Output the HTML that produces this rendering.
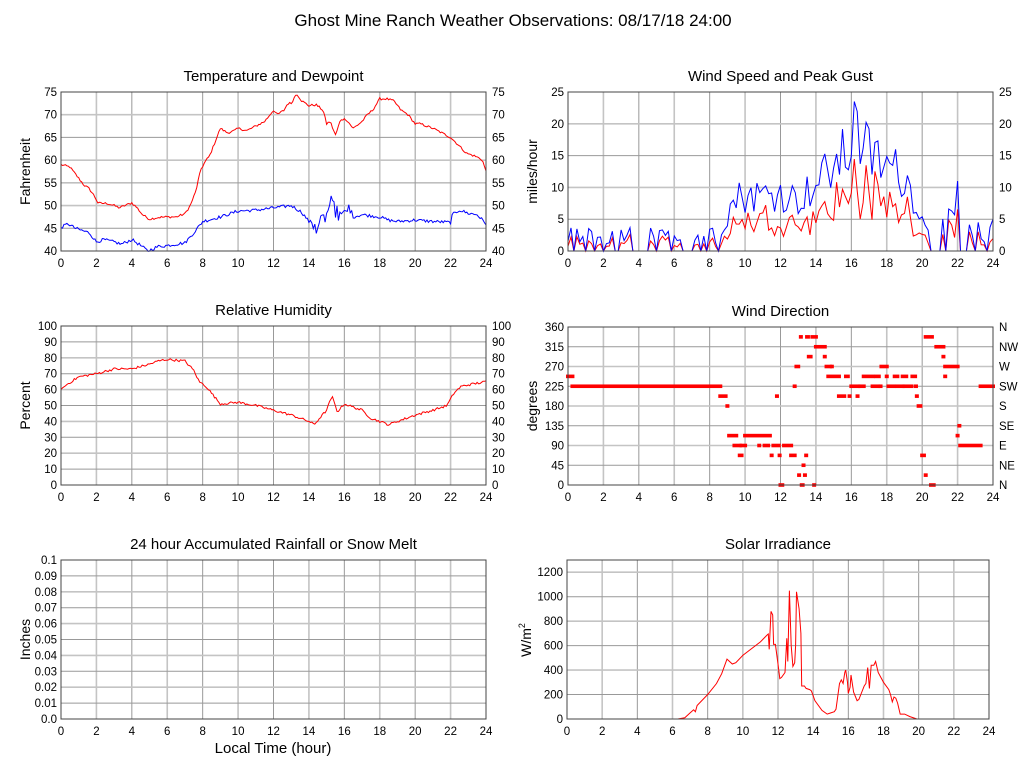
<!DOCTYPE html>
<html><head><meta charset="utf-8"><style>
body{margin:0;background:#fff}
svg{display:block;font-family:"Liberation Sans",sans-serif}
</style></head><body>
<svg id="s" width="1027" height="772" xmlns="http://www.w3.org/2000/svg"></svg>
<script>
const S=document.getElementById('s');let out='';
let seed=12345;function rnd(){seed=(seed*1103515245+12345)%2147483648;return seed/2147483648;}
function interp(k,t){for(let i=0;i<k.length-1;i++){if(t>=k[i][0]&&t<=k[i+1][0]){const a=k[i],b=k[i+1];return a[1]+(b[1]-a[1])*(t-a[0])/(b[0]-a[0]||1);}}return k[k.length-1][1];}
function txt(x,y,s,sz,anc,extra){out+=`<text x="${x}" y="${y}" font-size="${sz}" text-anchor="${anc||'middle'}" fill="#000" ${extra||''}>${s}</text>`;}
function plot(o){const {x,y,w,h,ymin,ymax,ticks,right,title,ylab}=o;
 const X=t=>x+t/24*w, Y=v=>y+h-(v-ymin)/(ymax-ymin)*h;
 for(let i=2;i<24;i+=2){const lx=X(i);out+=`<line x1="${lx}" y1="${y}" x2="${lx}" y2="${y+h}" stroke="${i%4==2?'#c4c4c4':'#999'}" stroke-width="${i%4==2?1.6:1}"/>`;}
 ticks.forEach((v,i)=>{const ly=Y(v);if(v>ymin&&v<ymax)out+=`<line x1="${x}" y1="${ly}" x2="${x+w}" y2="${ly}" stroke="${i%2?'#999':'#c4c4c4'}" stroke-width="${i%2?1:1.6}"/>`;
  txt(x-4,ly+4,o.fmt?o.fmt(v):v,11.5,'end');
  if(right)txt(x+w+6,ly+4,right[i],11.5,'start');});
 for(let i=0;i<=24;i+=2)txt(X(i),y+h+16,i,11.5);
 txt(x+w/2,y-11,title,15);
 if(ylab)out+=`<text transform="translate(${x-31},${y+h/2}) rotate(-90)" font-size="14" text-anchor="middle">${ylab}</text>`;
 o.X=X;o.Y=Y;return o;}
function border(o){out+=`<rect x="${o.x}" y="${o.y}" width="${o.w}" height="${o.h}" fill="none" stroke="#444" stroke-width="1"/>`;}
function line(o,pts,col){out+=`<polyline fill="none" stroke="${col}" stroke-width="1" points="${pts.map(p=>o.X(p[0]).toFixed(1)+','+o.Y(p[1]).toFixed(1)).join(' ')}"/>`;}
function series(k,noise,n){const p=[];for(let i=0;i<=n;i++){const t=i*24/n;p.push([t,interp(k,t)+(rnd()-0.5)*noise]);}return p;}
txt(513,26,'Ghost Mine Ranch Weather Observations: 08/17/18 24:00',17);
const r5=(a,b,s)=>{const r=[];for(let v=a;v<=b+1e-9;v+=s)r.push(+v.toFixed(2));return r;};
let tT=r5(40,75,5);
let P=plot({x:61,y:92,w:425,h:159,ymin:40,ymax:75,ticks:tT,right:tT,title:'Temperature and Dewpoint',ylab:'Fahrenheit'});
const tk=[[0,59],[0.5,58.5],[1,56],[1.3,54.5],[1.6,53.7],[1.9,52],[2.1,50.5],[2.6,50.5],[3,50],[3.3,49.5],[3.6,50],[4,50.6],[4.3,49.5],[4.6,48],[5,47],[5.5,47.4],[6,47.5],[6.5,47.5],[7,48.2],[7.3,50],[7.6,53],[7.9,58],[8.2,60],[8.4,61],[8.7,64],[9,67],[9.4,66],[9.8,66.5],[10,67],[10.5,66.5],[11,67.5],[11.5,68.5],[12,71],[12.2,70],[12.6,71],[12.8,72.5],[13,72.5],[13.3,74.7],[13.6,73],[14,72],[14.4,72.2],[14.8,71],[15,68],[15.2,68.5],[15.5,65.5],[15.8,69],[16.1,69],[16.5,67],[17,68.5],[17.3,70],[17.6,71],[18,73.5],[18.4,73.5],[18.8,73],[19.2,71],[19.6,70],[20,68],[20.3,68],[21,67],[21.5,66],[22,65],[22.4,63.5],[22.9,61.5],[23.3,61],[23.6,60.5],[23.8,60],[24,57.5]];
const dk=[[0,45.2],[0.4,46],[0.8,45],[1.2,44.5],[1.6,44],[2,42],[2.4,42.5],[3,42],[3.4,41.5],[4,42.5],[4.4,41.5],[4.9,40],[5.5,41],[6,41.2],[6.5,41.5],[7,41.8],[7.5,44],[8,46.5],[8.5,47],[9,47.5],[10,48.8],[11,49],[12,49.5],[13,50],[13.6,48.5],[14,46.5],[14.2,45],[14.6,46],[15,47.5],[15.2,50.8],[15.5,49],[15.9,47],[16.1,49.5],[16.5,47.5],[17,48],[18,47.5],[18.5,46.8],[19,46.5],[20,46.8],[21,46.5],[22,46.3],[22.1,48],[22.5,49],[23,48.3],[23.5,48],[24,46]];
line(P,series(tk,0.5,288),'#f00');
let dp=series(dk,0.7,288);dp.forEach(p=>{if(p[0]>14&&p[0]<16.5)p[1]+=(rnd()-0.5)*3;});
line(P,dp,'#00f');border(P);
let wt=r5(0,25,5);
P=plot({x:568,y:92,w:425,h:159,ymin:0,ymax:25,ticks:wt,right:wt,title:'Wind Speed and Peak Gust',ylab:'miles/hour'});
const gk=[[0,2.5],[8.5,2.5],[9,6],[9.5,9],[12,9.5],[13,8.5],[14,11],[15,14],[16,17],[16.3,19],[17,16],[18,14],[19,12.5],[19.5,9],[20,6],[21,4.5],[22,4.5],[23,3],[24,3.5]];
let G=[],W=[];
for(let i=0;i<=144;i++){const t=i/6;let g=interp(gk,t);let v;
 if(t<8.6||t>20){v=rnd()<0.4?0:g*(0.4+rnd()*1.1);}else v=g*(0.65+rnd()*0.6);
 if(Math.abs(t-16.17)<0.05)v=23.5;if(Math.abs(t-22)<0.05)v=11;
 G.push([t,Math.max(0,v)]);W.push([t,Math.max(0,v*(0.35+rnd()*0.4))]);}
line(P,W,'#f00');line(P,G,'#00f');border(P);
let rt=r5(0,100,10);
P=plot({x:61,y:326,w:425,h:159,ymin:0,ymax:100,ticks:rt,right:rt,title:'Relative Humidity',ylab:'Percent'});
const hk=[[0,60],[0.3,63],[1,68],[2,70],[3,73],[4,73],[5,76],[5.5,78],[6,79],[7,78],[7.5,72],[7.8,65],[8.2,62],[8.7,55],[9,51],[10,52],[10.5,51],[11,50],[12,47],[13,44],[14,40],[14.3,38],[14.6,42],[15,47],[15.3,56],[15.6,46],[16,51],[16.5,49],[17,47],[17.5,42],[18,40],[18.5,38],[19,40],[20,44],[21,47],[21.8,50],[22.2,58],[22.6,62],[23,63],[24,65]];
line(P,series(hk,1.5,288),'#f00');border(P);
P=plot({x:568,y:327,w:425,h:158,ymin:0,ymax:360,ticks:r5(0,360,45),right:['N','NE','E','SE','S','SW','W','NW','N'],title:'Wind Direction',ylab:'degrees'});
const runs=[[0,0.25,247.5],[0.25,8.6,225],[8.6,8.9,202.5],[9,9,180],[9.1,9.5,112.5],[9.4,9.7,90],[9.7,9.8,67.5],[9.8,10,90],[10,11.4,112.5],[10.8,10.8,90],[11.1,11.3,90],[11.5,11.5,67.5],[11.6,11.9,90],[11.8,11.8,202.5],[11.95,11.95,67.5],[12,12.1,0],[12.2,12.6,90],[12.6,12.8,67.5],[12.8,12.8,225],[12.9,13,270],[13.05,13.05,22.5],[13.15,13.15,337.5],[13.2,13.25,0],[13.3,13.3,45],[13.38,13.38,22.5],[13.45,13.45,67.5],[13.5,13.55,337.5],[13.6,13.7,292.5],[13.8,14,337.5],[13.9,13.9,0],[14,14.5,315],[14.5,14.5,292.5],[14.6,14.8,270],[14.7,15.3,247.5],[14.9,14.9,270],[15.3,15.6,202.5],[15.7,15.8,247.5],[15.9,15.9,202.5],[16,16.4,225],[16.35,16.35,202.5],[16.5,16.7,225],[16.7,17.2,247.5],[17.2,17.5,225],[17.4,17.55,247.5],[17.65,17.65,225],[17.7,18,270],[18,18,247.5],[18.1,18.4,225],[18.45,18.6,247.5],[18.6,18.9,225],[18.9,19.1,247.5],[19.0,19.4,225],[19.45,19.6,247.5],[19.65,19.65,225],[19.7,19.7,202.5],[19.8,19.9,180],[20,20.1,67.5],[20.2,20.2,22.5],[20.2,20.55,337.5],[20.5,20.65,0],[20.8,21.2,315],[21.2,21.2,292.5],[21.3,21.3,247.5],[21.3,22,270],[22,22,112.5],[22.1,22.1,135],[22.15,23.3,90],[23.3,24,225]];
runs.forEach(r=>{const x1=P.X(r[0])-2,x2=P.X(r[1])+2;out+=`<rect x="${x1}" y="${P.Y(r[2])-1.8}" width="${x2-x1}" height="3.6" fill="#f00"/>`;});
border(P);
P=plot({x:61,y:560,w:425,h:159,ymin:0,ymax:0.1,ticks:r5(0,0.1,0.01),title:'24 hour Accumulated Rainfall or Snow Melt',ylab:'Inches',fmt:v=>v==0?'0.0':v==0.1?'0.1':v.toFixed(2)});
line(P,[[0,0],[24,0]],'#f00');border(P);
txt(273,753,'Local Time (hour)',15);
P=plot({x:567,y:560,w:422,h:159,ymin:0,ymax:1300,ticks:r5(0,1200,200),title:'Solar Irradiance',ylab:''});
out+=`<text transform="translate(531,640) rotate(-90)" font-size="14" text-anchor="middle">W/m<tspan font-size="9" dy="-6">2</tspan></text>`;
const sk=[[0,0],[6.3,0],[6.7,10],[7,50],[7.2,75],[7.3,60],[7.4,110],[8,200],[8.5,290],[8.8,370],[9.1,490],[9.4,450],[9.6,460],[10,520],[11,630],[11.4,690],[11.45,695],[11.5,570],[11.6,880],[11.7,850],[11.75,610],[11.85,610],[12,450],[12.1,330],[12.2,340],[12.4,380],[12.5,660],[12.56,470],[12.65,1050],[12.75,600],[12.85,430],[12.95,460],[13.0,600],[13.05,1040],[13.2,900],[13.3,700],[13.35,270],[13.5,270],[13.6,250],[13.8,240],[13.9,230],[14.1,150],[14.5,70],[14.8,40],[15,50],[15.2,60],[15.3,80],[15.5,290],[15.6,320],[15.7,290],[15.8,380],[15.85,400],[15.95,300],[16,210],[16.1,260],[16.15,360],[16.3,220],[16.5,150],[16.6,160],[16.9,270],[17,290],[17.1,420],[17.2,250],[17.3,440],[17.45,440],[17.55,470],[17.7,380],[18,300],[18.3,240],[18.4,200],[18.5,140],[18.6,180],[18.7,170],[18.8,130],[18.95,40],[19.2,40],[19.5,20],[19.9,0],[24,0]];
line(P,sk,'#f00');border(P);
S.innerHTML=out;
</script>
</body></html>
